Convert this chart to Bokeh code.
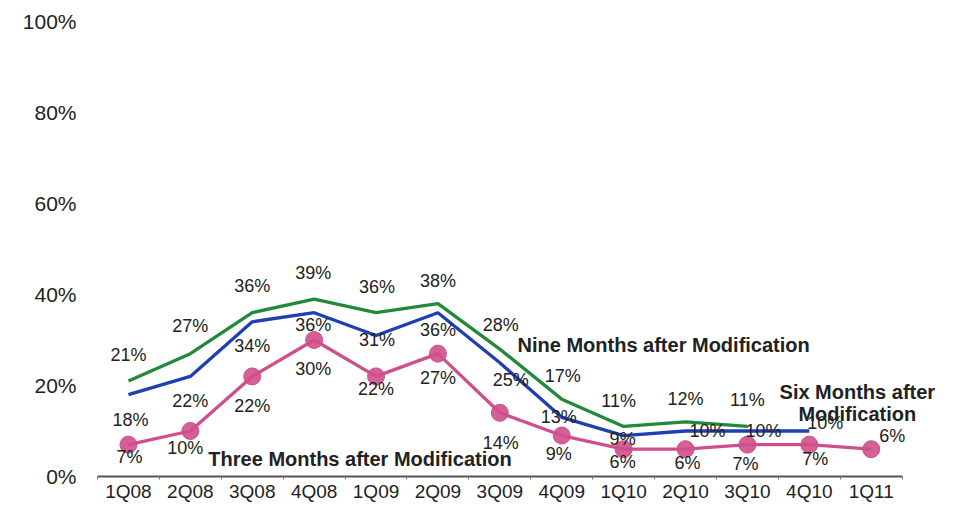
from bokeh.plotting import figure
from bokeh.models import Range1d, FixedTicker, PrintfTickFormatter, Label
from bokeh.embed import file_html
from bokeh.resources import INLINE

# ---- data ----
quarters = ["1Q08", "2Q08", "3Q08", "4Q08", "1Q09", "2Q09", "3Q09",
            "4Q09", "1Q10", "2Q10", "3Q10", "4Q10", "1Q11"]
nine_months = [21, 27, 36, 39, 36, 38, 28, 17, 11, 12, 11]
six_months = [18, 22, 34, 36, 31, 36, 25, 13, 9, 10, 10, 10]
three_months = [7, 10, 22, 30, 22, 27, 14, 9, 6, 6, 7, 7, 6]
y_ticks = [0, 20, 40, 60, 80, 100]

# ---- label placement (screen px, +dy is down) ----
nine_dx = [0, 0, 0, -1, 1, 0, 1, 1, -5, 0, 0]
nine_dy = [-26, -28, -27, -26, -26, -23, -24, -23, -25, -23, -26]
six_dx = [2, 0, 0, -1, 1, 0, 11, -3, -1, 22, 16, 16]
six_dy = [25, 25, 24, 12, 5, 17, 17, 0, 3, 0, 0, -8]
three_dx = [1, -5, 0, -1, 0, 0, 1, -3, -1, 2, -2, 6, 21]
three_dy = [12, 17, 30, 29, 13, 24, 30, 18, 13, 14, 19, 14, -13]

GREEN = "#23893a"
BLUE = "#1f3fb3"
PINK = "#cf4f8b"
FONT = "Liberation Sans"
TXT = "#222222"

n = len(quarters)
idx = list(range(n))  # category slots on the x scale

p = figure(width=945, height=504, x_range=Range1d(-0.5, n + 0.2),
           y_range=Range1d(0, 100), output_backend="svg", toolbar_location=None,
           min_border_left=97, min_border_right=0, min_border_top=21, min_border_bottom=0)
p.outline_line_color = None
p.xgrid.visible = False
p.ygrid.visible = False
p.background_fill_color = "white"
p.border_fill_color = "white"


def series(vals, color, dx, dy, markers=False):
    xs = idx[:len(vals)]
    p.line(xs, vals, line_color=color, line_width=3.3)
    if markers:
        p.scatter(xs, vals, size=17, fill_color=color, line_color=color, fill_alpha=0.9)
    for x, v, ox, oy in zip(xs, vals, dx, dy):
        p.add_layout(Label(x=x, y=v, text=f"{v}%", x_offset=ox, y_offset=-oy,
                           text_font=FONT, text_font_size="18px", text_color=TXT,
                           text_align="center", text_baseline="middle"))


series(nine_months, GREEN, nine_dx, nine_dy)
series(six_months, BLUE, six_dx, six_dy)
series(three_months, PINK, three_dx, three_dy, markers=True)

# series name annotations
ann_text = ["Nine Months after Modification", "Six Months after", "Modification",
            "Three Months after Modification"]
ann_x = [quarters.index(q) for q in ["1Q10", "4Q10", "4Q10", "1Q09"]]
ann_y = [28.85, 18.65, 13.67, 3.9]
ann_dx = [40, 48, 48, -16]
for t, x, y, ox in zip(ann_text, ann_x, ann_y, ann_dx):
    p.add_layout(Label(x=x, y=y, text=t, x_offset=ox, text_font=FONT,
                       text_font_size="20px", text_font_style="bold", text_color=TXT,
                       text_align="center", text_baseline="middle"))

# axes
p.yaxis.ticker = FixedTicker(ticks=y_ticks)
p.yaxis.formatter = PrintfTickFormatter(format="%d%%")
p.yaxis.axis_line_color = None
p.yaxis.major_tick_line_color = None
p.yaxis.major_tick_out = 0
p.yaxis.major_tick_in = 0
p.yaxis.minor_tick_line_color = None
p.yaxis.major_label_standoff = 21
p.yaxis.major_label_text_font = FONT
p.yaxis.major_label_text_font_size = "21px"
p.yaxis.major_label_text_color = TXT

p.xaxis.ticker = FixedTicker(ticks=idx, minor_ticks=[i - 0.5 for i in range(n + 1)])
p.xaxis.major_label_overrides = {i: q for i, q in zip(idx, quarters)}
p.xaxis.bounds = (-0.5, n - 0.5)
p.xaxis.axis_line_color = "#555555"
p.xaxis.axis_line_width = 2
p.xaxis.major_tick_line_color = None
p.xaxis.major_tick_out = 0
p.xaxis.major_tick_in = 0
p.xaxis.minor_tick_line_color = "#777777"
p.xaxis.minor_tick_out = 3
p.xaxis.minor_tick_in = 0
p.xaxis.major_label_standoff = 1
p.xaxis.major_label_text_font = FONT
p.xaxis.major_label_text_font_size = "19px"
p.xaxis.major_label_text_color = TXT

open("out.html", "w").write(file_html(p, INLINE))
